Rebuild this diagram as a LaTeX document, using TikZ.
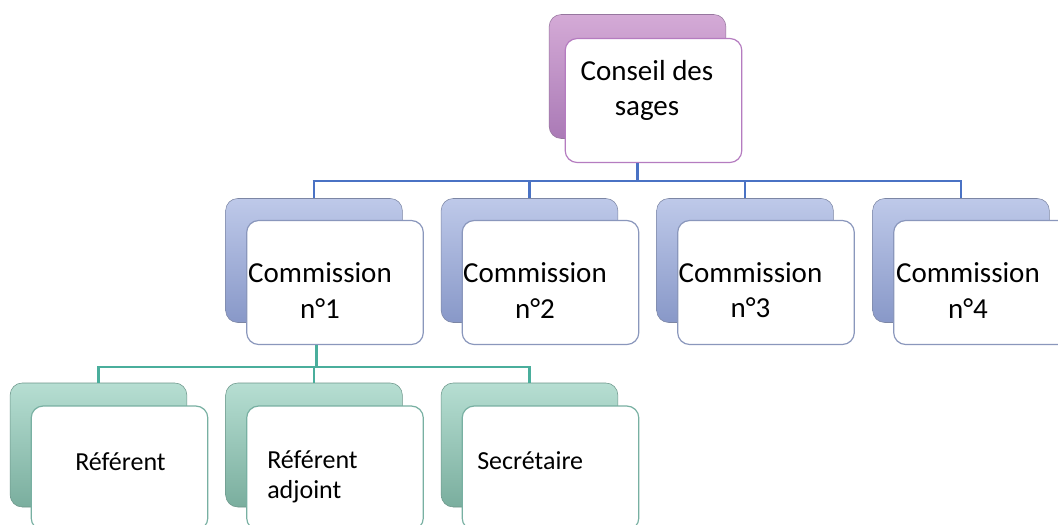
\documentclass[tikz,border=0pt]{standalone}
\usepackage{fontspec}
\setmainfont{Carlito}
\definecolor{purpleTop}{RGB}{212,170,214}
\definecolor{purpleBot}{RGB}{170,122,182}
\definecolor{purpleLine}{RGB}{181,124,192}
\definecolor{blueTop}{RGB}{190,201,233}
\definecolor{blueBot}{RGB}{136,152,200}
\definecolor{blueLine}{RGB}{138,151,188}
\definecolor{greenTop}{RGB}{182,222,210}
\definecolor{greenBot}{RGB}{122,174,158}
\definecolor{greenLine}{RGB}{120,176,162}
\definecolor{busBlue}{RGB}{74,114,196}
\definecolor{busGreen}{RGB}{74,174,156}
\tikzset{
  box/.style={rounded corners=9pt, minimum width=132.5pt, minimum height=93pt, inner sep=0pt},
  backpurple/.style={box, draw={rgb,255:red,150;green,118;blue,158}, top color=purpleTop, bottom color=purpleBot},
  backblue/.style={box, draw={rgb,255:red,124;green,134;blue,164}, top color=blueTop, bottom color=blueBot},
  backgreen/.style={box, draw={rgb,255:red,108;green,150;blue,138}, top color=greenTop, bottom color=greenBot},
  frontpurple/.style={box, draw=purpleLine, line width=0.9pt, fill=white},
  frontblue/.style={box, draw=blueLine, line width=0.9pt, fill=white},
  frontgreen/.style={box, draw=greenLine, line width=0.9pt, fill=white},
  bigtext/.style={font=\fontsize{21.75}{26.3}\selectfont, align=center, inner sep=0pt},
  smalltext/.style={font=\fontsize{19.5}{22.5}\selectfont, align=left, inner sep=0pt},
  bluebus/.style={draw=busBlue, line width=2.2pt},
  greenbus/.style={draw=busGreen, line width=2.2pt}
}
\begin{document}
\begin{tikzpicture}[x=0.75pt,y=0.75pt,yscale=-1,xscale=1]
\clip (0,0) rectangle (1058,525);
\fill[white] (0,0) rectangle (1058,525);

% Conseil des sages
\node[backpurple] (cs-b) at (637.5,76.5) {};
\node[frontpurple] (cs-f) at (653.5,100.5) {};
\node[bigtext] (cs-t) at (647,90.5) {Conseil des\\sages};

% Commissions
\node[backblue] (c1-b) at (314,260.5) {};
\node[frontblue] (c1-f) at (335,282.5) {};
\node[bigtext] (c1-t) at (320,290.5) {Commission\\n°1};

\node[backblue] (c2-b) at (529.5,260.5) {};
\node[frontblue] (c2-f) at (550.5,282.5) {};
\node[bigtext] (c2-t) at (535,290.5) {Commission\\n°2};

\node[backblue] (c3-b) at (745,260.5) {};
\node[frontblue] (c3-f) at (766,282.5) {};
\node[bigtext] (c3-t) at (750.5,290.5) {Commission\\n°3};

\node[backblue] (c4-b) at (961,260.5) {};
\node[frontblue] (c4-f) at (982,282.5) {};
\node[bigtext] (c4-t) at (968,290.5) {Commission\\n°4};

% Membres de la commission n°1
\node[backgreen] (r1-b) at (98.5,445) {};
\node[frontgreen] (r1-f) at (119.5,468) {};
\node[smalltext, anchor=west] (r1-t) at (75,462) {Référent};

\node[backgreen] (r2-b) at (314,445) {};
\node[frontgreen] (r2-f) at (335,468) {};
\node[smalltext, anchor=west] (r2-t) at (267,477) {Référent\\adjoint};

\node[backgreen] (r3-b) at (529.5,445) {};
\node[frontgreen] (r3-f) at (550.5,468) {};
\node[smalltext, anchor=west] (r3-t) at (477,461) {Secrétaire};

% Connecteurs
\coordinate (bus1) at (0,181);
\coordinate (bus2) at (0,367);
\draw[bluebus] (cs-b |- cs-f.south) -- (cs-b |- bus1);
\draw[bluebus] ([xshift=-1pt]c1-b |- bus1) -- ([xshift=1pt]c4-b |- bus1);
\draw[bluebus] (c1-b |- bus1) -- (c1-b.north);
\draw[bluebus] (c2-b |- bus1) -- (c2-b.north);
\draw[bluebus] (c3-b |- bus1) -- (c3-b.north);
\draw[bluebus] (c4-b |- bus1) -- (c4-b.north);

\draw[greenbus] ([xshift=2pt]c1-b |- c1-f.south) -- ([xshift=2pt]c1-b |- bus2);
\draw[greenbus] ([xshift=-1pt]r1-b |- bus2) -- ([xshift=1pt]r3-b |- bus2);
\draw[greenbus] (r1-b |- bus2) -- (r1-b.north);
\draw[greenbus] (r2-b |- bus2) -- (r2-b.north);
\draw[greenbus] (r3-b |- bus2) -- (r3-b.north);
\end{tikzpicture}
\end{document}
